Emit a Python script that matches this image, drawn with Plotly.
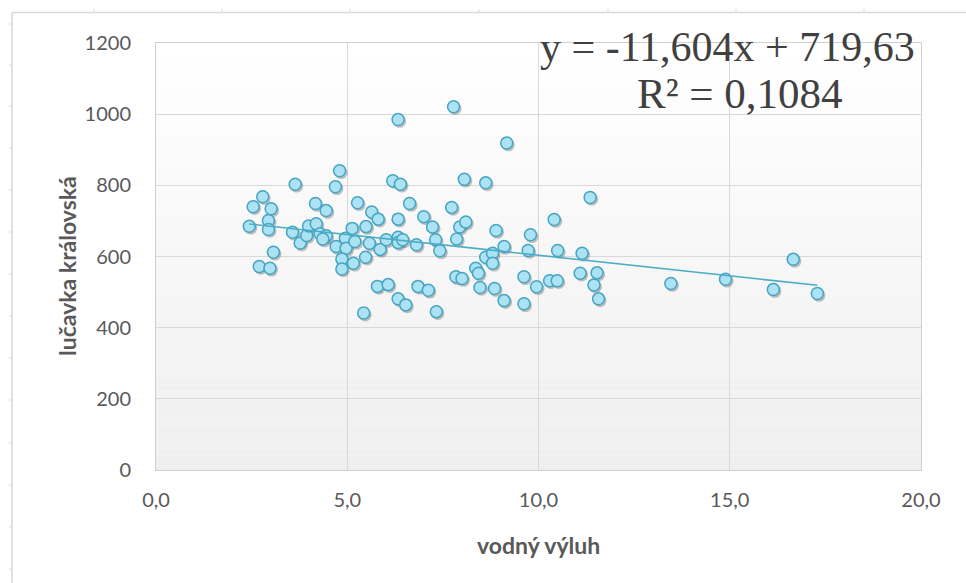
import plotly.graph_objects as go

# vodný výluh (x) vs. lučavka královská (y)
voda = [
    2.44, 2.54, 2.79, 2.70, 2.98, 2.94, 2.94, 3.01, 3.07, 3.57,
    3.64, 3.77, 3.94, 3.99, 4.17, 4.19, 4.29, 4.45, 4.36, 4.45,
    4.69, 4.80, 4.71, 4.95, 4.97, 4.86, 4.86, 5.13, 5.20, 5.16,
    5.27, 5.49, 5.48, 5.58, 5.64, 5.81, 5.86, 5.79, 6.07, 5.43,
    6.02, 6.19, 6.39, 6.33, 6.33, 6.33, 6.33, 6.45, 6.33, 6.53,
    6.63, 6.81, 6.85, 7.00, 7.12, 7.23, 7.31, 7.33, 7.42, 7.73,
    7.78, 7.86, 7.94, 7.84, 8.00, 8.06, 8.10, 8.36, 8.43, 8.47,
    8.62, 8.62, 8.80, 8.80, 8.85, 8.89, 9.10, 9.10, 9.17, 9.62,
    9.62, 9.73, 9.79, 9.95, 10.29, 10.49, 10.41, 10.50, 11.09, 11.14,
    11.35, 11.53, 11.45, 11.57, 13.46, 14.89, 16.14, 16.66, 17.29,
]
lucavka = [
    685, 740, 768, 572, 567, 701, 676, 734, 612, 668,
    803, 638, 659, 686, 749, 692, 664, 658, 649, 729,
    796, 841, 628, 651, 623, 593, 565, 679, 642, 581,
    751, 684, 598, 637, 725, 705, 620, 516, 521, 441,
    647, 813, 803, 985, 705, 654, 639, 647, 481, 464,
    749, 633, 516, 712, 505, 683, 647, 445, 616, 738,
    1021, 649, 683, 543, 538, 817, 697, 567, 553, 513,
    807, 598, 609, 581, 510, 673, 628, 476, 919, 543,
    467, 617, 661, 515, 532, 532, 704, 617, 553, 609,
    766, 554, 520, 481, 524, 536, 507, 592, 496,
]

# linear trend y = a*x + b and its coefficient of determination
slope = -11.604
intercept = 719.63
r_squared = 0.1084

x_ticks = [0, 5, 10, 15, 20]
x_tick_labels = ["0,0", "5,0", "10,0", "15,0", "20,0"]
y_ticks = [0, 200, 400, 600, 800, 1000, 1200]

# plot-area placement in the 966 x 583 page (pixels)
W, H = 966, 583
L, R, T, B = 156, 921, 43, 470
PW, PH = R - L, B - T


def px_x(p):
    return (p - L) / PW


def px_y(p):
    return (B - p) / PH


GRID = "#d9d9d9"
TEXT = "#595959"
SANS = "Lato, 'Open Sans', sans-serif"
SERIF = "'Liberation Serif', 'Times New Roman', serif"

# marker drop shadow: a small offset of about 1.5 px right and down
shadow_dx = 1.5 * 20 / PW
shadow_dy = -1.8 * 1200 / PH

fig = go.Figure()

fig.add_trace(go.Scatter(
    x=[v + shadow_dx for v in voda], y=[v + shadow_dy for v in lucavka],
    mode="markers",
    marker=dict(size=13, color="rgba(40,40,40,0.28)", line=dict(width=0)),
    hoverinfo="skip", showlegend=False,
))

fig.add_trace(go.Scatter(
    x=voda, y=lucavka, mode="markers",
    marker=dict(size=12, color="#abe2f4", line=dict(color="#45a5c2", width=1.5)),
    hoverinfo="x+y", showlegend=False,
))

x_fit = [min(voda), max(voda)]
y_fit = [slope * v + intercept for v in x_fit]
fig.add_trace(go.Scatter(
    x=x_fit, y=y_fit, mode="lines",
    line=dict(color="#4bacc6", width=1.6),
    hoverinfo="skip", showlegend=False,
))

shapes = []
# soft vertical gradient of the plot area (white at top, light grey at bottom)
n_strips = 60
for i in range(n_strips):
    t = i / (n_strips - 1)
    g = round(239 + (255 - 239) * t)
    shapes.append(dict(
        type="rect", xref="paper", yref="paper",
        x0=0, x1=1, y0=i / n_strips, y1=(i + 1) / n_strips,
        fillcolor=f"rgb({g},{g},{g})", line=dict(width=0), layer="below",
    ))

# outer frame of the chart area with its small ruler ticks
frame = "#d9d9d9"
shapes.append(dict(type="line", xref="paper", yref="paper",
                   x0=px_x(12), x1=px_x(W), y0=px_y(12.5), y1=px_y(12.5),
                   line=dict(color=frame, width=1.5)))
shapes.append(dict(type="line", xref="paper", yref="paper",
                   x0=px_x(12), x1=px_x(12), y0=px_y(12.5), y1=px_y(H),
                   line=dict(color=frame, width=1.5)))
for tx in [94, 222, 350, 479, 608, 736, 864]:
    shapes.append(dict(type="line", xref="paper", yref="paper",
                       x0=px_x(tx), x1=px_x(tx), y0=px_y(9), y1=px_y(12),
                       line=dict(color=frame, width=1)))
for ty in [24, 65, 106, 148, 190, 232, 274, 316, 358, 400, 443, 485, 527, 569]:
    shapes.append(dict(type="line", xref="paper", yref="paper",
                       x0=px_x(9), x1=px_x(12), y0=px_y(ty), y1=px_y(ty),
                       line=dict(color=frame, width=1)))

eq_text = f"y = {slope:.3f}x + {intercept:.2f}".replace(".", ",")
r2_text = f"R² = {r_squared:.4f}".replace(".", ",")

annotations = [
    dict(text=eq_text, xref="paper", yref="paper", x=px_x(727), y=px_y(47),
         xanchor="center", yanchor="middle", showarrow=False,
         font=dict(family=SERIF, size=42, color="#404040")),
    dict(text=r2_text, xref="paper", yref="paper", x=px_x(740), y=px_y(93),
         xanchor="center", yanchor="middle", showarrow=False,
         font=dict(family=SERIF, size=43, color="#404040")),
    dict(text="<b>vodný výluh</b>", xref="paper", yref="paper", x=0.5, y=px_y(545),
         xanchor="center", yanchor="middle", showarrow=False,
         font=dict(family=SANS, size=23, color=TEXT)),
    dict(text="<b>lučavka královská</b>", xref="paper", yref="paper", x=px_x(67), y=px_y(266),
         xanchor="center", yanchor="middle", showarrow=False, textangle=-90,
         font=dict(family=SANS, size=23, color=TEXT)),
]

fig.update_layout(
    width=W, height=H,
    margin=dict(l=L, r=W - R, t=T, b=H - B, pad=0),
    paper_bgcolor="white", plot_bgcolor="white",
    separators=", ",
    shapes=shapes, annotations=annotations,
    font=dict(family=SANS, size=20, color=TEXT),
    xaxis=dict(
        range=[0, 20], tickvals=x_ticks, ticktext=x_tick_labels,
        showgrid=True, gridcolor=GRID, gridwidth=1,
        showline=True, linecolor="#cfcfcf", linewidth=1, mirror=True,
        zeroline=False, ticks="outside", ticklen=12, tickcolor="rgba(0,0,0,0)",
        tickfont=dict(family=SANS, size=20, color=TEXT),
    ),
    yaxis=dict(
        range=[0, 1200], tickvals=y_ticks,
        showgrid=True, gridcolor=GRID, gridwidth=1,
        showline=True, linecolor="#cfcfcf", linewidth=1, mirror=True,
        zeroline=False, ticks="outside", ticklen=20, tickcolor="rgba(0,0,0,0)",
        tickfont=dict(family=SANS, size=20, color=TEXT),
    ),
)

fig.write_html("out.html")
